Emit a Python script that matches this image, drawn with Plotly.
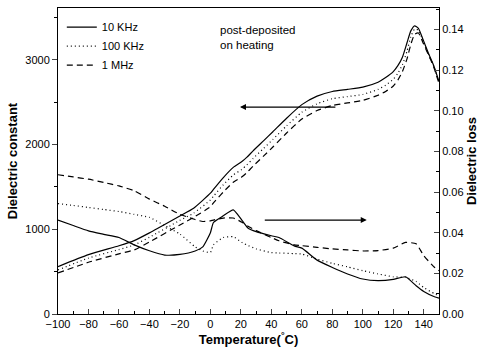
import plotly.graph_objects as go

# ---- Dielectric constant (left axis) ----
T_eps = [-100, -80, -60, -50, -40, -20, -11, 0, 2, 8.5, 15, 20.5, 24, 28, 35, 41, 50, 60, 70, 80, 90,
         100, 110, 115, 120, 123, 126, 129, 131.5, 134, 136.5, 139.5, 143, 146.3, 150]
eps_10k = [559, 700, 805, 866, 957, 1157, 1248, 1425, 1470, 1610, 1730, 1795, 1850, 1925, 2045, 2150,
           2310, 2470, 2570, 2625, 2650, 2677, 2735, 2790, 2860, 2930, 3030, 3200, 3340, 3400, 3370,
           3240, 3080, 2941, 2744]
eps_100k = [520, 660, 760, 815, 905, 1105, 1190, 1345, 1390, 1525, 1640, 1705, 1760, 1835, 1955, 2060,
            2220, 2380, 2480, 2540, 2565, 2590, 2650, 2700, 2770, 2840, 2940, 3100, 3270, 3362, 3350,
            3220, 3070, 2935, 2740]
eps_1M = [484, 610, 710, 756, 850, 1051, 1140, 1265, 1310, 1440, 1555, 1615, 1670, 1745, 1865, 1970,
          2135, 2300, 2400, 2460, 2490, 2520, 2580, 2625, 2690, 2760, 2860, 3010, 3180, 3300, 3315,
          3200, 3060, 2925, 2720]

# ---- Dielectric loss (right axis) ----
T_loss = [-100, -90, -80, -70, -60, -50, -40, -30, -20, -10, -5, 0, 2, 8.5, 15, 21, 25, 30, 40, 45,
          55, 60, 70, 80, 90, 100, 110, 120, 128, 135, 140, 147, 150]
loss_10k = [0.0462, 0.0435, 0.0409, 0.0392, 0.0376, 0.0340, 0.0311, 0.0290, 0.0293, 0.0310, 0.0330,
            0.0400, 0.0450, 0.0483, 0.0512, 0.0458, 0.0420, 0.0405, 0.0385, 0.0376, 0.0335, 0.0324,
            0.0265, 0.0229, 0.0197, 0.0172, 0.0164, 0.0170, 0.0183, 0.0139, 0.0111, 0.0085, 0.0078]
loss_100k = [0.0543, 0.0534, 0.0524, 0.0514, 0.0504, 0.0490, 0.0475, 0.0435, 0.0393, 0.0330, 0.0310,
             0.0303, 0.0340, 0.0376, 0.0380, 0.0350, 0.0336, 0.0320, 0.0302, 0.0300, 0.0297, 0.0295,
             0.0270, 0.0249, 0.0232, 0.0213, 0.0197, 0.0183, 0.0180, 0.0160, 0.0130, 0.0100, 0.0090]
loss_1M = [0.0685, 0.0674, 0.0663, 0.0647, 0.0630, 0.0606, 0.0565, 0.0530, 0.0490, 0.0465, 0.0455,
           0.0458, 0.0462, 0.0472, 0.0472, 0.0450, 0.0430, 0.0410, 0.0376, 0.0360, 0.0340, 0.0336,
           0.0328, 0.0320, 0.0315, 0.0310, 0.0312, 0.0324, 0.0352, 0.0345, 0.0287, 0.0230, 0.0213]

labels = ["10 KHz", "100 KHz", "1 MHz"]
dashes = ["solid", "1px,3px", "6px,4px"]

FONT = "Liberation Sans, Arial, sans-serif"
fig = go.Figure()

for lab, d, ys in zip(labels, dashes, [eps_10k, eps_100k, eps_1M]):
    fig.add_trace(go.Scatter(x=T_eps, y=ys, mode="lines", name=lab,
                             line=dict(color="black", width=1.2, dash=d, shape="spline", smoothing=0.5),
                             yaxis="y"))
for lab, d, ys in zip(labels, dashes, [loss_10k, loss_100k, loss_1M]):
    fig.add_trace(go.Scatter(x=T_loss, y=ys, mode="lines", name=lab, showlegend=False,
                             line=dict(color="black", width=1.2, dash=d, shape="spline", smoothing=0.5),
                             yaxis="y2"))

fig.update_layout(
    width=490, height=352,
    margin=dict(l=58, r=51, t=8, b=38),
    paper_bgcolor="white", plot_bgcolor="white",
    font=dict(family=FONT, size=11, color="black"),
    showlegend=True,
    legend=dict(x=0.01, y=0.985, xanchor="left", yanchor="top", bgcolor="rgba(0,0,0,0)",
                font=dict(size=11), tracegroupgap=0, itemwidth=30),
    xaxis=dict(range=[-100, 150], dtick=20, tick0=-100, ticks="inside", ticklen=5,
               showline=True, linecolor="black", linewidth=1, mirror=True, showgrid=False,
               zeroline=False, minor=dict(dtick=10, ticks="inside", ticklen=3, tickcolor="black"),
               title=dict(text="<b>Temperature(<sup>°</sup>C)</b>", font=dict(size=13), standoff=4)),
    yaxis=dict(range=[0, 3610], dtick=1000, ticks="outside", ticklen=5,
               showline=True, linecolor="black", linewidth=1, showgrid=False, zeroline=False,
               minor=dict(dtick=500, ticks="outside", ticklen=3, tickcolor="black"),
               title=dict(text="<b>Dielectric constant</b>", font=dict(size=13), standoff=4)),
    yaxis2=dict(range=[0, 0.1505], dtick=0.02, tickformat=".2f", ticks="inside", ticklen=5,
                overlaying="y", side="right", showline=True, linecolor="black", linewidth=1,
                showgrid=False, zeroline=False,
                minor=dict(dtick=0.01, ticks="inside", ticklen=3, tickcolor="black"),
                title=dict(text="<b>Dielectric loss</b>", font=dict(size=13), standoff=4)),
)

fig.add_annotation(text="post-deposited<br>on heating", xref="paper", yref="paper",
                   x=0.42, y=0.955, xanchor="left", yanchor="top", align="left",
                   showarrow=False, font=dict(size=11.5))

# arrows pointing to the respective axes
fig.add_annotation(x=19.4, y=2441, ax=83, ay=2441, xref="x", yref="y", axref="x", ayref="y",
                   showarrow=True, arrowhead=2, arrowsize=1, arrowwidth=1.2, arrowcolor="black", text="")
fig.add_annotation(x=102.6, y=0.0462, ax=34.7, ay=0.0462, xref="x", yref="y2", axref="x", ayref="y2",
                   showarrow=True, arrowhead=2, arrowsize=1, arrowwidth=1.2, arrowcolor="black", text="")

fig.write_html("out.html")
